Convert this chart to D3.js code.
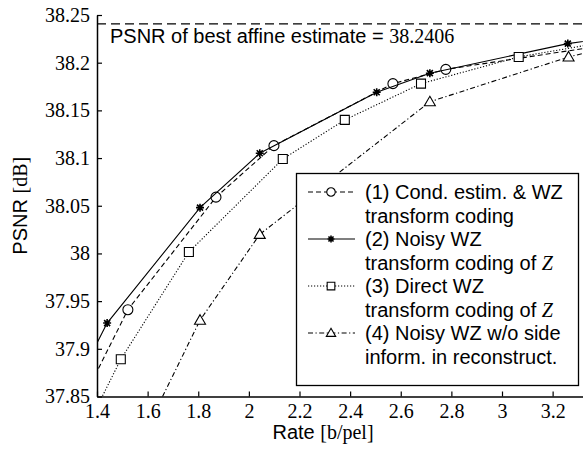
<!DOCTYPE html>
<html>
<head>
<meta charset="utf-8">
<script src="https://cdn.jsdelivr.net/npm/d3@7"></script>
<style>
  body { margin: 0; background: #fff; }
</style>
</head>
<body>
<div id="chart"></div>
<script>
//// DATA ////

// (1) Cond. estim. & WZ transform coding (circles, dashed)
var rate1 = [1.25, 1.522, 1.87, 2.099, 2.569, 2.778, 3.6];
var psnr1 = [37.797, 37.941, 38.059, 38.113, 38.178, 38.193, 38.226];

// (2) Noisy WZ transform coding of Z (stars, solid)
var rate2 = [1.30, 1.44, 1.807, 2.043, 2.505, 2.715, 3.26, 3.5];
var psnr2 = [37.854, 37.927, 38.048, 38.105, 38.169, 38.189, 38.220, 38.229];

// (3) Direct WZ transform coding of Z (squares, dotted)
var rate3 = [1.30, 1.494, 1.763, 2.134, 2.379, 2.68, 3.066, 3.5];
var psnr3 = [37.786, 37.889, 38.0015, 38.099, 38.140, 38.178, 38.206, 38.226];

// (4) Noisy WZ w/o side inform. in reconstruct. (triangles, dash-dot)
var rate4 = [1.60, 1.807, 2.043, 2.715, 3.263, 3.5];
var psnr4 = [37.818, 37.930, 38.020, 38.159, 38.206, 38.221];

var bestAffine = 38.2406;

var xTicks = [1.4, 1.6, 1.8, 2, 2.2, 2.4, 2.6, 2.8, 3, 3.2];
var yTicks = [37.85, 37.9, 37.95, 38, 38.05, 38.1, 38.15, 38.2, 38.25];

var legendLines = [
  ["(1) Cond. estim. & WZ", "transform coding"],
  ["(2) Noisy WZ", "transform coding of "],
  ["(3) Direct WZ", "transform coding of "],
  ["(4) Noisy WZ w/o side", "inform. in reconstruct."]
];

//// SET UP ////

var SANS = "'Liberation Sans', Arial, sans-serif";
var SERIF = "'Liberation Serif', 'Times New Roman', serif";

var svgWidth = 583;
var svgHeight = 451;

var plot = { left: 97, right: 583, top: 15, bottom: 396.5 };

var svg = d3.select("#chart")
  .append("svg")
  .attr("width", svgWidth)
  .attr("height", svgHeight);

var xScale = d3.scaleLinear()
  .domain([1.4, 3.32])
  .range([plot.left, plot.right]);

var yScale = d3.scaleLinear()
  .domain([37.85, 38.25])
  .range([plot.bottom, plot.top]);

svg.append("clipPath")
  .attr("id", "clip")
  .append("rect")
  .attr("x", plot.left)
  .attr("y", plot.top - 6)
  .attr("width", plot.right - plot.left)
  .attr("height", plot.bottom - plot.top + 6);

var fmt = d => String(+d.toFixed(2));

// axes, ticks pointing inward
var xAxis = svg.append("g")
  .attr("transform", `translate(0, ${plot.bottom})`)
  .call(d3.axisBottom(xScale).tickValues(xTicks).tickFormat(fmt)
    .tickSizeInner(-5).tickSizeOuter(0).tickPadding(7));

var yAxis = svg.append("g")
  .attr("transform", `translate(${plot.left}, 0)`)
  .call(d3.axisLeft(yScale).tickValues(yTicks).tickFormat(fmt)
    .tickSizeInner(-5).tickSizeOuter(0).tickPadding(7));

[xAxis, yAxis].forEach(function(g) {
  g.attr("font-family", SERIF).attr("font-size", 20);
  g.select(".domain").attr("stroke-width", 1.5);
  g.selectAll(".tick line").attr("stroke-width", 1.2);
  g.selectAll(".tick text").attr("font-family", SERIF).attr("font-size", 20);
});

// best affine estimate line
svg.append("line")
  .attr("x1", plot.left)
  .attr("x2", plot.right)
  .attr("y1", yScale(bestAffine))
  .attr("y2", yScale(bestAffine))
  .attr("stroke", "#000")
  .attr("stroke-width", 1.2)
  .attr("stroke-dasharray", "9,5");

var note = svg.append("text")
  .attr("x", 110)
  .attr("y", 43)
  .attr("font-size", 20);
note.append("tspan").attr("font-family", SANS).text("PSNR of best affine estimate = ");
note.append("tspan").attr("font-family", SERIF).text(bestAffine.toFixed(4));

//// SERIES ////

var series = [
  { x: rate1, y: psnr1, dash: "5,3", marker: "circle" },
  { x: rate2, y: psnr2, dash: null, marker: "star" },
  { x: rate3, y: psnr3, dash: "1.2,1.8", marker: "square" },
  { x: rate4, y: psnr4, dash: "5,2.5,1.2,2.5", marker: "triangle" }
];

function markerPath(type, k) {
  k = k || 1;
  if (type === "circle") return d3.symbol(d3.symbolCircle, Math.PI * 25 * k * k)();
  if (type === "square") return `M${-4.5 * k},${-4.5 * k}H${4.5 * k}V${4.5 * k}H${-4.5 * k}Z`;
  if (type === "triangle") return `M0,${-5.5 * k}L${5.5 * k},${4 * k}L${-5.5 * k},${4 * k}Z`;
  return `M${-4 * k},0H${4 * k}M0,${-4 * k}V${4 * k}M${-3 * k},${-3 * k}L${3 * k},${3 * k}M${-3 * k},${3 * k}L${3 * k},${-3 * k}`;
}

var plotGroup = svg.append("g").attr("clip-path", "url(#clip)");

var line = d3.line()
  .x(d => xScale(d[0]))
  .y(d => yScale(d[1]));

series.forEach(function(s) {
  var pts = s.x.map((v, i) => [v, s.y[i]]);
  plotGroup.append("path")
    .datum(pts)
    .attr("d", line)
    .attr("fill", "none")
    .attr("stroke", "#000")
    .attr("stroke-width", 1.1)
    .attr("stroke-dasharray", s.dash);

  plotGroup.selectAll(null)
    .data(pts)
    .enter()
    .append("path")
    .attr("transform", d => `translate(${xScale(d[0])}, ${yScale(d[1])})`)
    .attr("d", markerPath(s.marker))
    .attr("fill", "#fff")
    .attr("stroke", "#000")
    .attr("stroke-width", s.marker === "star" ? 1.6 : 1.1);
});

//// LEGEND ////

var legend = svg.append("g");

legend.append("rect")
  .attr("x", 296.5)
  .attr("y", 173.5)
  .attr("width", 282)
  .attr("height", 212)
  .attr("fill", "#fff")
  .attr("stroke", "#000")
  .attr("stroke-width", 1.3);

series.forEach(function(s, i) {
  var base = 199 + i * 47;
  var cy = base - 7;
  legend.append("line")
    .attr("x1", 308).attr("x2", 355)
    .attr("y1", cy).attr("y2", cy)
    .attr("stroke", "#000")
    .attr("stroke-width", 1.1)
    .attr("stroke-dasharray", s.dash);
  legend.append("path")
    .attr("transform", `translate(331, ${cy})`)
    .attr("d", markerPath(s.marker, 0.85))
    .attr("fill", "#fff")
    .attr("stroke", "#000")
    .attr("stroke-width", s.marker === "star" ? 1.6 : 1.1);

  legend.append("text")
    .attr("font-family", SANS)
    .attr("x", 365).attr("y", base)
    .attr("font-size", 20)
    .text(legendLines[i][0]);

  var t2 = legend.append("text")
    .attr("font-family", SANS)
    .attr("x", 365).attr("y", base + 23.5)
    .attr("font-size", 20);
  t2.append("tspan").text(legendLines[i][1]);
  if (i === 1 || i === 2) {
    t2.append("tspan").attr("font-family", SERIF).attr("font-style", "italic").text("Z");
  }
});

//// AXIS LABELS ////

var xLabel = svg.append("text")
  .attr("x", 323)
  .attr("y", 439)
  .attr("text-anchor", "middle")
  .attr("font-size", 20);
xLabel.append("tspan").attr("font-family", SANS).text("Rate ");
xLabel.append("tspan").attr("font-family", SERIF).text("[b/pel]");

var yLabel = svg.append("text")
  .attr("transform", `translate(27, ${(plot.top + plot.bottom) / 2}) rotate(-90)`)
  .attr("text-anchor", "middle")
  .attr("font-size", 20);
yLabel.append("tspan").attr("font-family", SANS).text("PSNR ");
yLabel.append("tspan").attr("font-family", SERIF).text("[dB]");
</script>
</body>
</html>
